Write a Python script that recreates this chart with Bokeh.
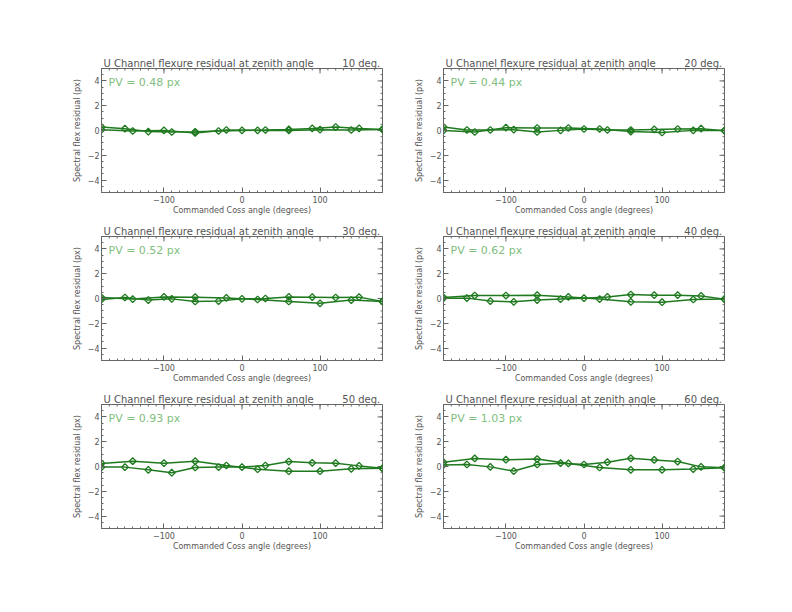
import numpy as np
from bokeh.plotting import figure
from bokeh.layouts import column, row
from bokeh.models import Range1d, FixedTicker, Label
from bokeh.embed import file_html
from bokeh.resources import INLINE

# ---------------- data ----------------
angles30 = [-180, -150, -120, -90, -60, -30, 0, 30, 60, 90, 120, 150, 180]
angles40 = [-180, -140, -100, -60, -20, 20, 60, 100, 140, 180]
zenith = [10, 20, 30, 40, 50, 60]
pv_values = [0.48, 0.44, 0.52, 0.62, 0.93, 1.03]

res30_z10 = [0.28, 0.15, -0.09, -0.12, -0.10, -0.04, 0.01, 0.04, 0.09, 0.17, 0.28, 0.17, 0.09]
res40_z10 = [0.06, -0.04, 0.01, -0.20, 0.04, 0.01, 0.01, 0.07, 0.04, 0.09]
res30_z20 = [0.28, 0.04, 0.04, 0.07, -0.12, 0.01, 0.12, 0.04, 0.04, 0.09, 0.12, 0.15, -0.01]
res40_z20 = [0.00, -0.12, 0.23, 0.20, 0.20, 0.12, -0.09, -0.16, 0.01, -0.01]
res30_z30 = [-0.08, 0.08, -0.13, -0.03, -0.24, -0.21, -0.03, 0.00, 0.13, 0.11, 0.08, 0.11, -0.24]
res40_z30 = [0.08, -0.05, 0.13, 0.11, 0.05, -0.08, -0.24, -0.39, -0.13, -0.24]
res30_z40 = [0.03, 0.03, -0.21, -0.27, -0.13, -0.05, 0.03, 0.13, 0.32, 0.27, 0.27, 0.21, -0.05]
res40_z40 = [0.08, 0.24, 0.24, 0.27, 0.13, -0.05, -0.27, -0.30, -0.08, -0.05]
res30_z50 = [-0.05, -0.05, -0.27, -0.50, -0.08, -0.05, -0.05, 0.08, 0.40, 0.30, 0.27, 0.05, -0.15]
res40_z50 = [0.25, 0.43, 0.27, 0.43, 0.08, -0.22, -0.38, -0.38, -0.19, -0.15]
res30_z60 = [0.13, 0.16, -0.03, -0.37, 0.16, 0.27, 0.16, 0.35, 0.66, 0.53, 0.40, -0.03, -0.10]
res40_z60 = [0.35, 0.65, 0.55, 0.60, 0.25, -0.08, -0.27, -0.27, -0.21, -0.10]

res30 = [res30_z10, res30_z20, res30_z30, res30_z40, res30_z50, res30_z60]
res40 = [res40_z10, res40_z20, res40_z30, res40_z40, res40_z50, res40_z60]

x_major = [-100, 0, 100]
x_minor = list(range(-180, 181, 10))
y_major = [-4, -2, 0, 2, 4]
y_minor = [v / 2 for v in range(-10, 11)]

title_text = "U Channel flexure residual at zenith angle"
x_label = "Commanded Coss angle (degrees)"
y_label = "Spectral flex residual (px)"

# ---------------- style ----------------
FONT = "DejaVu Sans"
TEXT_COL = "#555555"
AX_COL = "#666666"
LINE_COL = "#1f7a1f"
PV_COL = "#80c080"


def style_axis(ax):
    ax.axis_line_color = AX_COL
    ax.major_tick_line_color = AX_COL
    ax.minor_tick_line_color = AX_COL
    ax.major_tick_in = 5
    ax.major_tick_out = 0
    ax.minor_tick_in = 2
    ax.minor_tick_out = 0
    ax.major_label_text_font = FONT
    ax.major_label_text_color = TEXT_COL
    ax.major_label_text_font_size = "8px"
    ax.axis_label_text_font = FONT
    ax.axis_label_text_color = TEXT_COL
    ax.axis_label_text_font_style = "normal"
    ax.axis_label_text_font_size = "8px"


def make_panel(i, left, top):
    p = figure(
        frame_width=281, frame_height=124,
        x_range=Range1d(-180, 180), y_range=Range1d(-5, 5),
        output_backend="svg", toolbar_location=None,
        min_border_left=101 if left else 42,
        min_border_right=19 if left else 50,
        min_border_top=68 if top else 14,
        min_border_bottom=30,
        background_fill_color="white", border_fill_color="white",
    )
    p.grid.visible = False
    p.outline_line_color = AX_COL

    p.xaxis.ticker = FixedTicker(ticks=x_major, minor_ticks=x_minor)
    p.yaxis.ticker = FixedTicker(ticks=y_major, minor_ticks=y_minor)
    p.xaxis.axis_label = x_label
    p.yaxis.axis_label = y_label
    for ax in p.xaxis:
        style_axis(ax)
        ax.major_label_standoff = 3
        ax.axis_label_standoff = 0
    for ax in p.yaxis:
        style_axis(ax)
        ax.major_label_standoff = 2
        ax.axis_label_standoff = 3

    # mirrored inward ticks on the top and right edges
    top_y = p.y_range.end
    right_x = p.x_range.end
    p.ray(x=x_major, y=[top_y] * len(x_major), length=5, length_units="screen",
          angle=-np.pi / 2, line_color=AX_COL, line_width=1)
    p.ray(x=x_minor, y=[top_y] * len(x_minor), length=2, length_units="screen",
          angle=-np.pi / 2, line_color=AX_COL, line_width=1)
    p.ray(x=[right_x] * len(y_major), y=y_major, length=5, length_units="screen",
          angle=np.pi, line_color=AX_COL, line_width=1)
    p.ray(x=[right_x] * len(y_minor), y=y_minor, length=2, length_units="screen",
          angle=np.pi, line_color=AX_COL, line_width=1)

    p.line(angles30, res30[i], line_color=LINE_COL, line_width=1.5)
    p.line(angles40, res40[i], line_color=LINE_COL, line_width=1.5)
    p.scatter(angles30, res30[i], marker="square", angle=np.pi / 4, size=4.8,
              fill_alpha=0, line_color=LINE_COL, line_width=1.3)
    p.scatter(angles40, res40[i], marker="square", angle=np.pi / 4, size=4.8,
              fill_alpha=0, line_color=LINE_COL, line_width=1.3)

    p.title.text = title_text + "\u00a0" * 9 + f"{zenith[i]} deg."
    p.title.align = "left"
    p.title.offset = 2
    p.title.standoff = 0
    p.title.text_font = FONT
    p.title.text_font_size = "10px"
    p.title.text_font_style = "normal"
    p.title.text_color = TEXT_COL

    p.add_layout(Label(x=-180, y=5, x_offset=7, y_offset=-14,
                       text=f"PV = {pv_values[i]:.2f} px",
                       text_font=FONT, text_font_size="11px", text_color=PV_COL,
                       text_baseline="alphabetic", text_align="left"))
    return p


panels = [make_panel(i, i % 2 == 0, i < 2) for i in range(6)]
layout = column(row(panels[0], panels[1]), row(panels[2], panels[3]), row(panels[4], panels[5]))

open("out.html", "w").write(file_html(layout, INLINE))
